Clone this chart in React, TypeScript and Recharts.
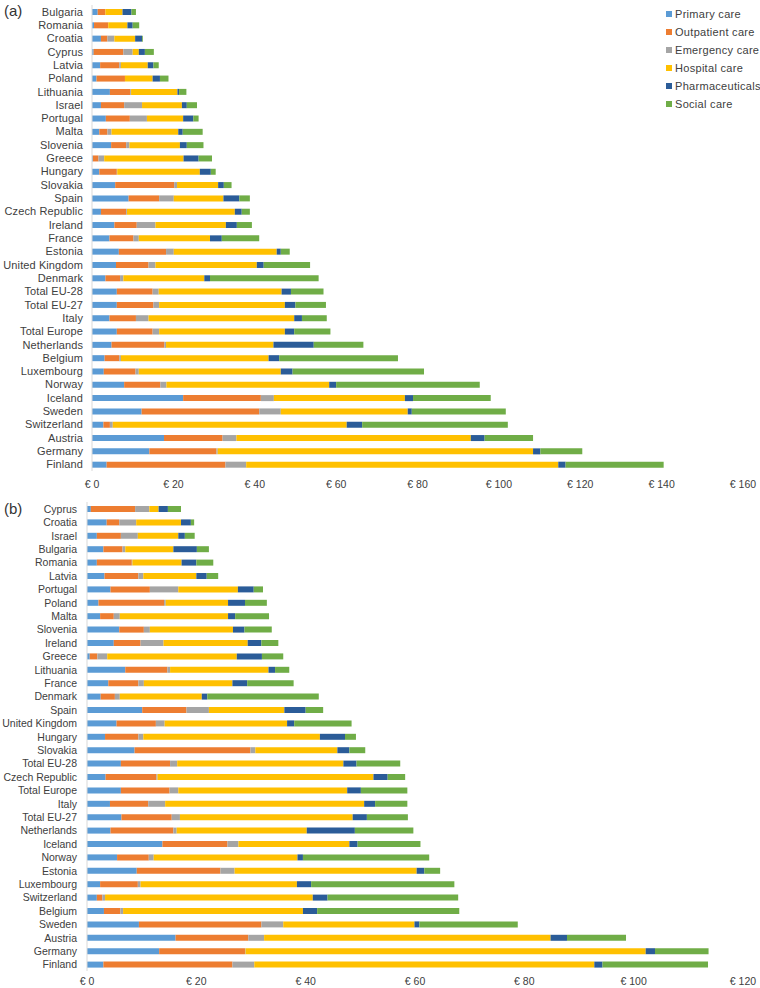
import React from 'react';
import { BarChart, Bar, XAxis, YAxis } from 'recharts';

// Panel (a)
const countriesA = [
  'Bulgaria', 'Romania', 'Croatia', 'Cyprus', 'Latvia', 'Poland', 'Lithuania', 'Israel', 'Portugal',
  'Malta', 'Slovenia', 'Greece', 'Hungary', 'Slovakia', 'Spain', 'Czech Republic', 'Ireland', 'France',
  'Estonia', 'United Kingdom', 'Denmark', 'Total EU-28', 'Total EU-27', 'Italy', 'Total Europe',
  'Netherlands', 'Belgium', 'Luxembourg', 'Norway', 'Iceland', 'Sweden', 'Switzerland', 'Austria',
  'Germany', 'Finland',
];
const primaryA = [1.4, 0.5, 2.2, 0.4, 2.0, 1.1, 4.4, 2.2, 3.4, 1.8, 4.7, 0.2, 1.8, 5.7, 9.0, 2.2, 5.5, 4.3, 6.6, 5.9, 3.3, 6.1, 6.1, 4.3, 6.1, 4.8, 3.1, 2.9, 7.9, 22.4, 12.2, 2.8, 17.7, 14.1, 3.6];
const outpatientA = [1.9, 3.5, 1.6, 7.3, 4.7, 7.0, 5.0, 5.7, 5.9, 2.0, 3.7, 1.4, 4.3, 14.5, 7.5, 6.2, 5.5, 5.9, 11.6, 8.0, 3.6, 8.8, 9.0, 6.5, 8.8, 13.0, 3.6, 7.8, 8.9, 19.1, 28.9, 1.6, 14.4, 16.5, 29.2];
const emergencyA = [0, 0, 1.7, 2.3, 0.4, 0, 0.2, 4.4, 4.2, 1.0, 0.8, 1.4, 0.1, 0.7, 3.6, 0.2, 4.6, 1.3, 1.9, 1.7, 0.8, 1.5, 1.4, 3.1, 1.6, 0.4, 0.4, 0.8, 1.5, 3.2, 5.3, 0.7, 3.4, 0.3, 5.1];
const hospitalA = [4.2, 4.7, 5.1, 1.5, 6.6, 6.8, 11.4, 9.8, 8.9, 16.4, 12.4, 19.5, 20.3, 10.1, 12.2, 26.5, 17.3, 17.5, 25.3, 24.9, 19.9, 30.2, 30.9, 35.8, 30.9, 26.4, 36.3, 34.9, 40.0, 32.2, 31.2, 57.5, 57.6, 77.5, 76.7];
const pharmaA = [2.2, 1.3, 1.7, 1.5, 1.4, 1.8, 0.4, 1.2, 2.5, 1.1, 1.7, 3.7, 2.7, 1.4, 3.9, 1.7, 2.7, 2.9, 1.0, 1.7, 1.4, 2.3, 2.6, 1.9, 2.3, 9.9, 2.6, 2.9, 1.7, 2.0, 1.0, 3.8, 3.4, 1.8, 1.8];
const socialA = [1.1, 1.6, 0.2, 2.2, 1.3, 2.1, 1.8, 2.5, 1.3, 4.9, 4.1, 3.3, 1.2, 1.9, 2.6, 2.0, 3.7, 9.2, 2.2, 11.4, 26.7, 8.0, 7.5, 6.1, 8.9, 12.2, 29.2, 32.3, 35.3, 19.1, 23.1, 35.8, 11.9, 10.3, 24.1];
const ticksA = [0, 20, 40, 60, 80, 100, 120, 140, 160];

// Panel (b)
const countriesB = [
  'Cyprus', 'Croatia', 'Israel', 'Bulgaria', 'Romania', 'Latvia', 'Portugal', 'Poland', 'Malta',
  'Slovenia', 'Ireland', 'Greece', 'Lithuania', 'France', 'Denmark', 'Spain', 'United Kingdom',
  'Hungary', 'Slovakia', 'Total EU-28', 'Czech Republic', 'Total Europe', 'Italy', 'Total EU-27',
  'Netherlands', 'Iceland', 'Norway', 'Estonia', 'Luxembourg', 'Switzerland', 'Belgium', 'Sweden',
  'Austria', 'Germany', 'Finland',
];
const primaryB = [0.7, 3.6, 1.8, 3.0, 1.8, 3.2, 4.3, 2.1, 2.4, 5.9, 4.9, 0.5, 7.0, 3.9, 2.5, 10.1, 5.4, 3.3, 8.7, 6.2, 3.4, 6.2, 4.2, 6.3, 4.3, 13.8, 5.5, 9.1, 2.4, 1.8, 3.1, 9.5, 16.2, 13.2, 3.0];
const outpatientB = [8.1, 2.3, 4.4, 3.5, 6.4, 6.2, 7.2, 12.0, 2.5, 4.5, 4.9, 1.4, 7.7, 5.5, 2.6, 8.1, 7.2, 6.1, 21.2, 9.0, 9.3, 8.9, 7.0, 9.2, 11.5, 11.9, 5.8, 15.3, 6.9, 1.0, 3.0, 22.4, 13.3, 15.7, 23.6];
const emergencyB = [2.6, 3.1, 3.1, 0.5, 0.1, 0.9, 5.2, 0.3, 1.1, 1.1, 4.2, 1.8, 0.5, 1.0, 0.9, 4.1, 1.6, 0.9, 0.9, 1.3, 0.2, 1.6, 3.1, 1.5, 0.6, 2.0, 0.9, 2.6, 0.5, 0.5, 0.5, 4.0, 2.9, 0.1, 4.0];
const hospitalB = [1.7, 8.2, 7.4, 8.8, 9.0, 9.7, 10.9, 11.4, 19.8, 15.2, 15.4, 23.7, 18.0, 16.2, 15.0, 13.8, 22.4, 32.3, 15.0, 30.4, 39.5, 30.9, 36.4, 31.6, 23.8, 20.3, 26.3, 33.3, 28.6, 38.0, 32.9, 24.0, 52.4, 73.2, 62.2];
const pharmaB = [1.7, 1.8, 1.2, 4.3, 2.7, 1.9, 2.9, 3.1, 1.3, 2.1, 2.5, 4.6, 1.2, 2.7, 1.0, 3.9, 1.3, 4.6, 2.2, 2.4, 2.6, 2.5, 2.0, 2.6, 8.8, 1.5, 1.0, 1.4, 2.6, 2.7, 2.6, 0.9, 3.0, 1.7, 1.5];
const socialB = [2.4, 0.6, 1.8, 2.2, 3.1, 2.1, 1.7, 4.0, 6.2, 5.0, 3.1, 3.9, 2.6, 8.5, 20.4, 3.2, 10.5, 2.0, 2.9, 8.0, 3.2, 8.5, 5.9, 7.5, 10.7, 11.5, 23.1, 2.9, 26.2, 23.9, 26.0, 18.0, 10.8, 9.8, 19.3];
const ticksB = [0, 20, 40, 60, 80, 100, 120];

const SERIES = [
  { key: 'primary', name: 'Primary care', color: '#5B9BD5' },
  { key: 'outpatient', name: 'Outpatient care', color: '#ED7D31' },
  { key: 'emergency', name: 'Emergency care', color: '#A5A5A5' },
  { key: 'hospital', name: 'Hospital care', color: '#FFC000' },
  { key: 'pharma', name: 'Pharmaceuticals', color: '#2B5C98' },
  { key: 'social', name: 'Social care', color: '#70AD47' },
];

const buildRows = (
  countries: string[],
  primary: number[],
  outpatient: number[],
  emergency: number[],
  hospital: number[],
  pharma: number[],
  social: number[],
) =>
  countries.map((country, i) => ({
    country,
    primary: primary[i],
    outpatient: outpatient[i],
    emergency: emergency[i],
    hospital: hospital[i],
    pharma: pharma[i],
    social: social[i],
  }));

const dataA = buildRows(countriesA, primaryA, outpatientA, emergencyA, hospitalA, pharmaA, socialA);
const dataB = buildRows(countriesB, primaryB, outpatientB, emergencyB, hospitalB, pharmaB, socialB);

const TEXT = '#404040';
const SANS = "'Liberation Sans', Arial, sans-serif";

// plain svg text so long names never wrap
const makeCountryTick = (fontSize: number, spacing: number) => (props: any) => {
  const { x, y, payload } = props;
  return (
    <text x={x} y={y} textAnchor="end" dominantBaseline="central" fill={TEXT}
      style={{ fontFamily: SANS, fontSize, letterSpacing: spacing }}>
      {payload.value}
    </text>
  );
};

interface PanelProps {
  data: ReturnType<typeof buildRows>;
  ticks: number[];
  height: number;
  xAxisHeight: number;
  yWidth: number;
  labelMargin: number;
  tickMarginX: number;
  labelSize: number;
  labelSpacing: number;
}

const Panel: React.FC<PanelProps> = ({ data, ticks, height, xAxisHeight, yWidth, labelMargin, tickMarginX, labelSize, labelSpacing }) => (
  <BarChart
    width={760}
    height={height}
    data={data}
    layout="vertical"
    margin={{ top: 5, right: 17, bottom: 0, left: 0 }}
  >
    <XAxis
      type="number"
      domain={[0, ticks[ticks.length - 1]]}
      ticks={ticks}
      height={xAxisHeight}
      axisLine={false}
      tickLine={false}
      tickMargin={tickMarginX}
      tickFormatter={(v: number) => `€ ${v}`}
      tick={{ fill: TEXT, fontSize: 10.5, fontFamily: SANS }}
    />
    <YAxis
      type="category"
      dataKey="country"
      width={yWidth}
      interval={0}
      tickLine={false}
      tickMargin={labelMargin}
      axisLine={{ stroke: '#d9d9d9' }}
      tick={makeCountryTick(labelSize, labelSpacing)}
    />
    {SERIES.map((s) => (
      <Bar key={s.key} dataKey={s.key} name={s.name} stackId="a" fill={s.color} barSize={6} isAnimationActive={false} />
    ))}
  </BarChart>
);

const LegendBox = () => (
  <div style={{ position: 'absolute', left: 666, top: 5, fontFamily: SANS, fontSize: 11, color: TEXT, letterSpacing: 0.3 }}>
    {SERIES.map((s) => (
      <div key={s.key} style={{ display: 'flex', alignItems: 'center', height: 18 }}>
        <span style={{ width: 6, height: 6, background: s.color, marginRight: 3, display: 'inline-block' }} />
        <span>{s.name}</span>
      </div>
    ))}
  </div>
);

export default function App() {
  return (
    <div style={{ position: 'absolute', left: 0, top: 0, width: 760, height: 988, overflow: 'hidden', background: '#fff' }}>
      <div style={{ position: 'absolute', left: 0, top: 0 }}>
        <Panel
          data={dataA}
          ticks={ticksA}
          height={495}
          xAxisHeight={24}
          yWidth={92}
          labelMargin={3}
          tickMarginX={4}
          labelSize={11}
          labelSpacing={0.1}
        />
      </div>
      <div style={{ position: 'absolute', left: 0, top: 497 }}>
        <Panel
          data={dataB}
          ticks={ticksB}
          height={491}
          xAxisHeight={17}
          yWidth={87}
          labelMargin={4}
          tickMarginX={1}
          labelSize={10.5}
          labelSpacing={0}
        />
      </div>
      <div style={{ position: 'absolute', left: 4, top: 2, fontFamily: SANS, fontSize: 15, color: '#333' }}>(a)</div>
      <div style={{ position: 'absolute', left: 4, top: 500, fontFamily: SANS, fontSize: 15, color: '#333' }}>(b)</div>
      <LegendBox />
    </div>
  );
}
